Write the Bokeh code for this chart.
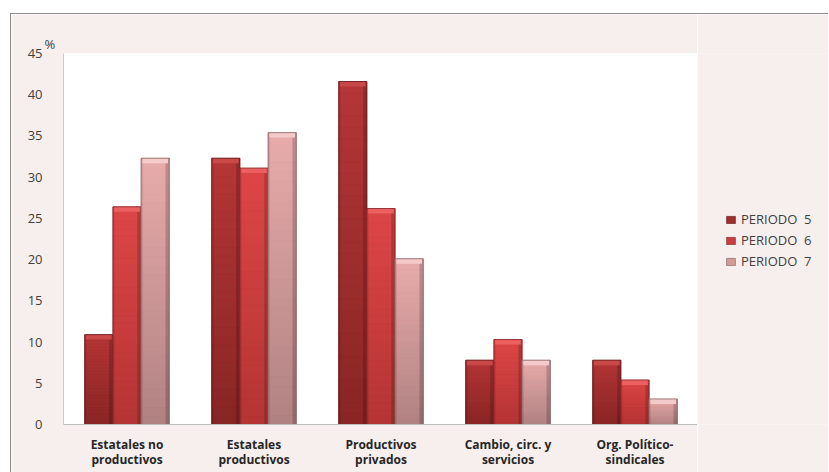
import numpy as np
from bokeh.plotting import figure
from bokeh.models import ColumnDataSource, Legend, LegendItem, Title, Spacer, FactorRange
from bokeh.layouts import column, row
from bokeh.transform import dodge
from bokeh.embed import file_html
from bokeh.resources import INLINE

# ---- data ----
categories = ["Estatales no\nproductivos", "Estatales\nproductivos", "Productivos\nprivados",
              "Cambio, circ. y\nservicios", "Org. Político-\nsindicales"]
periods = ["PERIODO  5", "PERIODO  6", "PERIODO  7"]
periodo5 = [10.9, 32.3, 41.6, 7.8, 7.8]
periodo6 = [26.4, 31.1, 26.2, 10.3, 5.4]
periodo7 = [32.3, 35.4, 20.1, 7.8, 3.1]
y_ticks = [0, 5, 10, 15, 20, 25, 30, 35, 40, 45]
series = [periodo5, periodo6, periodo7]

# ---- styles ----
PINK = "#F7EFEE"
top_cols = ["#B53636", "#DE4646", "#E8ABAB"]
bot_cols = ["#882525", "#B43434", "#B08181"]
mid_cols = ["#A02E2E", "#CC3E3E", "#D49A9A"]
cap_cols = ["#C94848", "#EC6060", "#F5CACA"]
edge_cols = ["#5E1818", "#7A2222", "#7E5C5C"]
bar_w = 0.222
offsets = [-bar_w, 0.0, bar_w]

p = figure(x_range=FactorRange(*categories), y_range=(0, 45),
           width=687, height=459, output_backend="svg", toolbar_location=None,
           min_border_left=52, min_border_right=0, min_border_top=39, min_border_bottom=49)
p.background_fill_color = "white"
p.border_fill_color = PINK
p.outline_line_color = None
p.xgrid.grid_line_color = None
p.ygrid.grid_line_color = None
p.styles = {"border-top": "1px solid #8c8c8c", "border-left": "1px solid #8c8c8c"}


def hex2rgb(h):
    h = h.lstrip("#")
    return np.array([int(h[i:i + 2], 16) for i in (0, 2, 4)], dtype=float)


def rgb2hex(c):
    return "#%02x%02x%02x" % tuple(int(round(v)) for v in c)


N = 30
for si, vals in enumerate(series):
    off = offsets[si]
    lo, hi = off - bar_w / 2, off + bar_w / 2
    base = ColumnDataSource(dict(cat=categories, top=vals, bottom=[0] * len(vals)))
    p.quad(left=dodge("cat", lo, range=p.x_range), right=dodge("cat", hi, range=p.x_range),
           bottom="bottom", top="top", source=base,
           fill_color=mid_cols[si], line_color=None)
    # vertical gradient slices
    cats, bots, tops, cols = [], [], [], []
    ct, cb = hex2rgb(top_cols[si]), hex2rgb(bot_cols[si])
    for ci, v in enumerate(vals):
        for k in range(N):
            t = (k + 0.5) / N
            cats.append(categories[ci])
            bots.append(v * k / N)
            tops.append(v * (k + 1) / N)
            cols.append(rgb2hex(cb * (1 - t) + ct * t))
    gsrc = ColumnDataSource(dict(cat=cats, bottom=bots, top=tops, color=cols))
    p.quad(left=dodge("cat", lo, range=p.x_range), right=dodge("cat", hi, range=p.x_range),
           bottom="bottom", top="top", source=gsrc, fill_color="color", line_color="color",
           line_width=0.5)
    # side shading
    p.quad(left=dodge("cat", hi - 0.03, range=p.x_range), right=dodge("cat", hi, range=p.x_range),
           bottom="bottom", top="top", source=base, fill_color="black", fill_alpha=0.18,
           line_color=None)
    p.quad(left=dodge("cat", lo, range=p.x_range), right=dodge("cat", lo + 0.015, range=p.x_range),
           bottom="bottom", top="top", source=base, fill_color="black", fill_alpha=0.08,
           line_color=None)
    # top bevel
    cap = ColumnDataSource(dict(cat=categories, top=vals, bottom=[v - 0.6 for v in vals]))
    p.quad(left=dodge("cat", lo + 0.01, range=p.x_range), right=dodge("cat", hi - 0.01, range=p.x_range),
           bottom="bottom", top="top", source=cap, fill_color=cap_cols[si], line_color=None)
    # outline
    p.quad(left=dodge("cat", lo, range=p.x_range), right=dodge("cat", hi, range=p.x_range),
           bottom="bottom", top="top", source=base, fill_color=None,
           line_color=edge_cols[si], line_alpha=0.7, line_width=1)

# axes
p.yaxis.ticker = y_ticks
p.yaxis.axis_line_color = "#C8C8C8"
p.yaxis.major_tick_line_color = None
p.yaxis.minor_tick_line_color = None
p.yaxis.major_label_text_font = "Open Sans"
p.yaxis.major_label_text_font_size = "13px"
p.yaxis.major_label_text_color = "#404040"
p.yaxis.major_label_standoff = 15

p.xaxis.axis_line_color = "#BDBDBD"
p.xaxis.major_tick_line_color = None
p.xaxis.minor_tick_line_color = None
p.xaxis.major_label_text_font = "Open Sans"
p.xaxis.major_label_text_font_size = "12px"
p.xaxis.major_label_text_font_style = "bold"
p.xaxis.major_label_text_color = "#262626"
p.xaxis.major_label_text_line_height = 0.92
p.xaxis.major_label_standoff = 5

pct = Title(text="%", align="left", offset=-19, standoff=1, text_font="Open Sans",
            text_font_size="13px", text_font_style="normal", text_color="#404040")
p.add_layout(pct, "above")

# ---- legend panel (separate figure, same background) ----
lg = figure(width=131, height=459, output_backend="svg", toolbar_location=None,
            x_axis_type=None, y_axis_type=None, x_range=(0, 1), y_range=(0, 1),
            min_border=0)
lg.background_fill_color = PINK
lg.border_fill_color = PINK
lg.outline_line_color = None
lg.grid.grid_line_color = None
lg.styles = {"border-top": "1px solid #8c8c8c"}
items = []
for si in range(3):
    # proxy glyph kept outside the visible range; it only feeds the legend swatch
    r = lg.quad(left=[2], right=[3], bottom=[2], top=[3], fill_color=mid_cols[si],
                line_color=edge_cols[si], line_alpha=0.6)
    items.append(LegendItem(label=periods[si], renderers=[r]))
legend = Legend(items=items, location=(28, 154), orientation="vertical",
                glyph_width=11, glyph_height=9, label_height=15, spacing=3, padding=0,
                margin=0, label_standoff=5, label_text_font="Open Sans",
                label_text_font_size="13px", label_text_color="#404040",
                border_line_color=None, background_fill_alpha=0)
lg.add_layout(legend, "center")

layout = column(Spacer(width=829, height=13), row(Spacer(width=10, height=459), p, lg))
open("out.html", "w").write(file_html(layout, INLINE))
